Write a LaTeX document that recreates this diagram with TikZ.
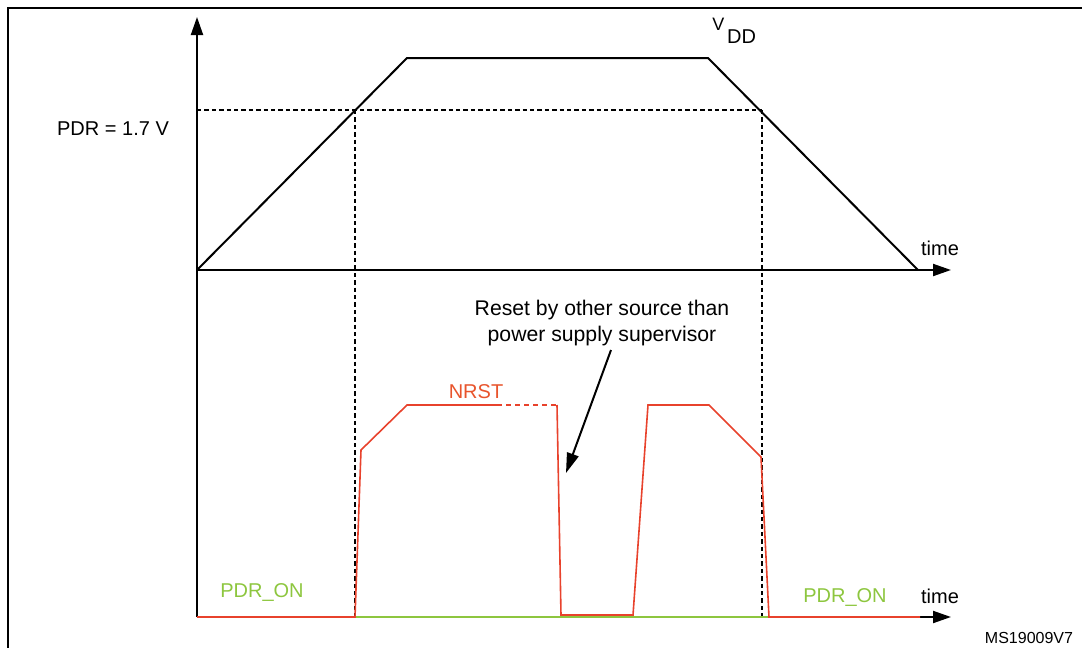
\documentclass[tikz,border=0pt]{standalone}
\usepackage{fontspec}
\setmainfont{Liberation Sans}
\usetikzlibrary{arrows.meta,positioning,calc}

\definecolor{nrstred}{RGB}{232,66,44}
\definecolor{nrsttext}{RGB}{232,84,44}
\definecolor{pdrgreen}{RGB}{141,198,63}

\begin{document}
\begin{tikzpicture}[
    x=0.5pt, y=-0.5pt,
    axis/.style={draw=black, line width=1pt, -{Triangle[length=9pt,width=6pt]}},
    supply/.style={draw=black, line width=1pt, line join=miter},
    level/.style={draw=black, line width=0.85pt, dash pattern=on 2.2pt off 1.5pt},
    nrst/.style={draw=nrstred, line width=0.8pt, line join=miter},
    pdron/.style={draw=pdrgreen, line width=1.1pt},
    lbl/.style={font=\fontsize{10}{12.5}\selectfont, inner sep=0pt},
    pointer/.style={draw=black, line width=1pt, -{Triangle[length=10pt,width=6pt]}}
]
    \useasboundingbox (0,0) rectangle (1082,648);

    % Frame
    \draw[line width=1pt] (8,648) -- (8,8) -- (1082,8);

    % Axes
    \coordinate (origin) at (197,270);
    \coordinate (low0) at (197,617);
    \coordinate (ytop) at (197,17);
    \coordinate (tend) at (951,270);
    \coordinate (bend) at (951,617);
    \draw[axis] (low0) -- (ytop);
    \draw[axis] (origin) -- (tend);
    \draw[axis] (low0) -- (bend);

    % VDD curve
    \coordinate (v1) at (407,58);
    \coordinate (v2) at (708,58);
    \coordinate (v3) at (918,270);
    \draw[supply] (origin) -- (v1) -- (v2) -- (v3);

    % PDR threshold and crossings
    \coordinate (pdrL) at (197,110);
    \coordinate (pdrA) at (355,110);
    \coordinate (pdrB) at (762,110);
    \coordinate (pdrAlow) at (355,617);
    \coordinate (pdrBlow) at (762,617);
    \draw[level] (pdrL) -- (pdrB);
    \draw[level] (pdrA) -- (pdrAlow);
    \draw[level] (pdrB) -- (pdrBlow);

    % PDR_ON signal
    \coordinate (g1) at (769,617);
    \draw[pdron] (pdrAlow) -- (g1);

    % NRST signal
    \coordinate (n0) at (197,617);
    \coordinate (n1) at (355,617);
    \coordinate (n2) at (361,450);
    \coordinate (n3) at (407,405);
    \coordinate (n4) at (497,405);
    \coordinate (n5) at (557,405);
    \coordinate (n6) at (561,615);
    \coordinate (n7) at (633,615);
    \coordinate (n8) at (648,405);
    \coordinate (n9) at (709,405);
    \coordinate (n10) at (761,457);
    \coordinate (n11) at (769,617);
    \coordinate (n12) at (920,617);
    \draw[nrst] (n0) -- (n1) -- (n2) -- (n3) -- (n4);
    \draw[nrst, dash pattern=on 2.5pt off 2pt] (n4) -- (n5);
    \draw[nrst] (n5) -- (n6) -- (n7) -- (n8) -- (n9) -- (n10) -- (n11) -- (n12);

    % Labels
    \node[lbl, anchor=base west] (vddv) at (712,30) {\fontsize{9}{10}\selectfont V};
    \node[lbl, anchor=base west] (vdd) at ($(vddv.base east)+(2,13)$) {DD};
    \node[lbl, anchor=base] (pdr) at (113,135) {PDR = 1.7 V};
    \node[lbl, anchor=base] (time1) at (940,255) {time};
    \node[lbl, anchor=base] (time2) at (940,603) {time};
    \node[lbl, anchor=base, text=nrsttext] (nrstlbl) at (476,398) {NRST};
    \node[lbl, anchor=base, text=pdrgreen] (pdron1) at (262,597) {PDR\_ON};
    \node[lbl, anchor=base, text=pdrgreen] (pdron2) at (845,602) {PDR\_ON};
    \node[lbl, align=center, font=\fontsize{10.6}{12.6}\selectfont] (reset) at (602,323)
        {Reset by other source than\\power supply supervisor};
    \node[lbl, anchor=base, font=\fontsize{8}{10}\selectfont] (figid) at (1029,643) {MS19009V7};

    % Pointer to the reset pulse
    \coordinate (resetfrom) at (611,350);
    \coordinate (resettip) at (566,473);
    \draw[pointer] (resetfrom) -- (resettip);
\end{tikzpicture}
\end{document}
